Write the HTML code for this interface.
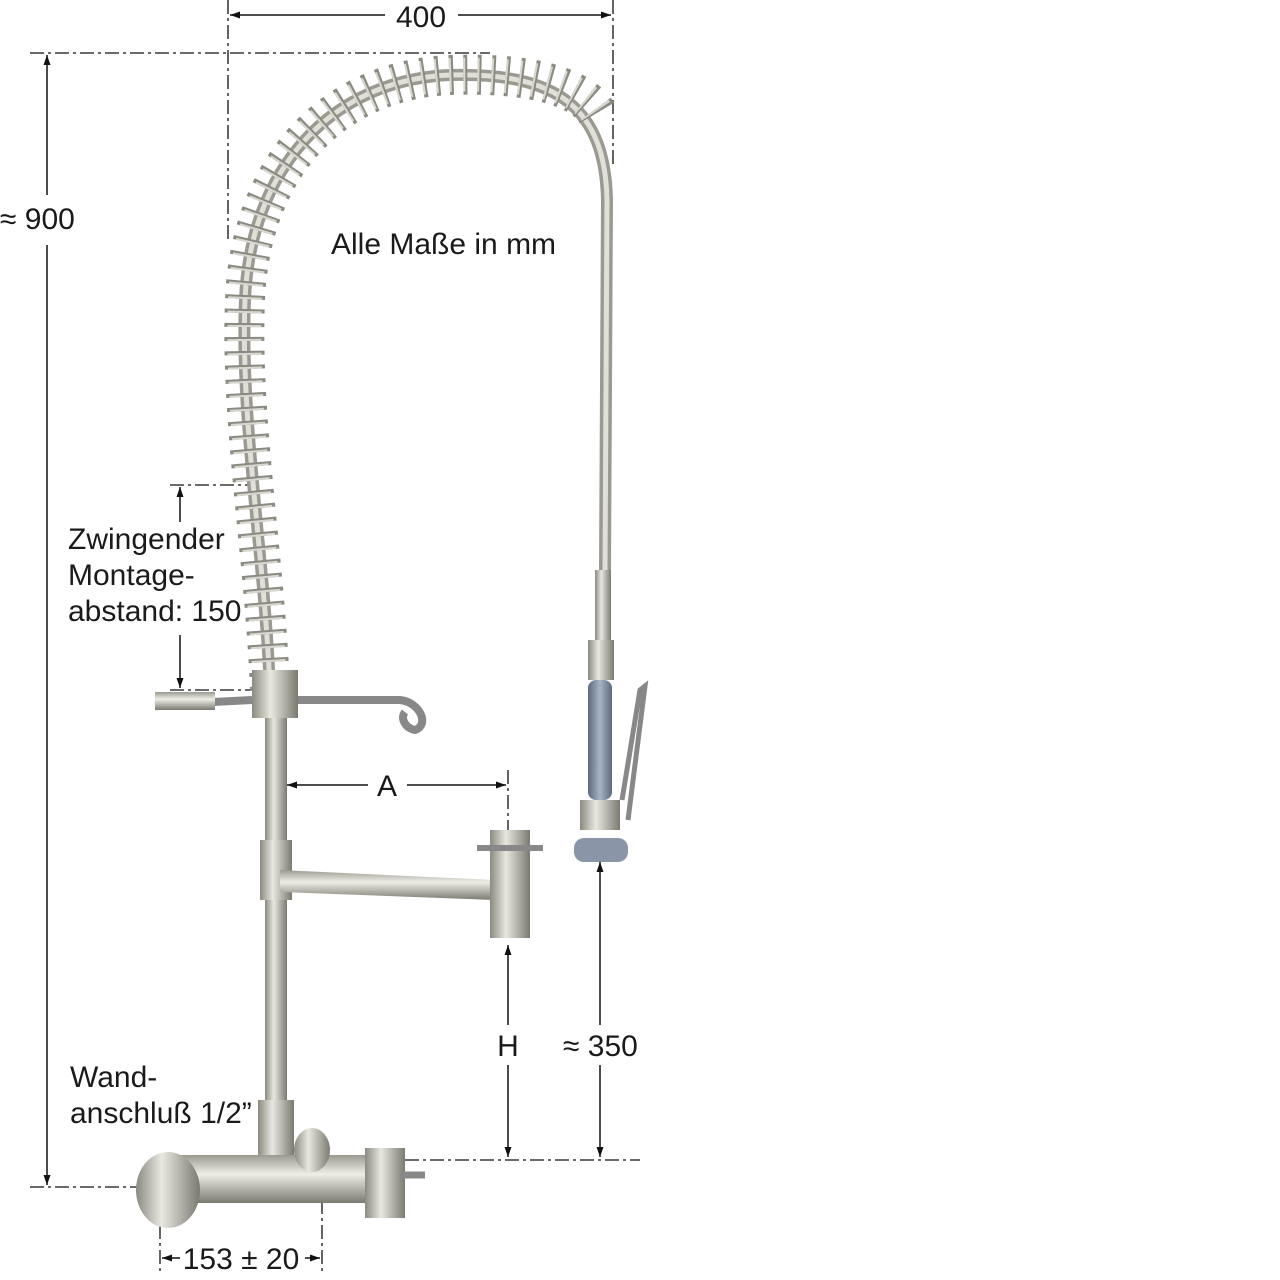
<!DOCTYPE html>
<html><head><meta charset="utf-8"><style>
html,body{margin:0;padding:0;background:#fff;}
svg{display:block;}
text{font-family:"Liberation Sans",sans-serif;fill:#1a1a1a;}
</style></head><body>
<svg width="1280" height="1280" viewBox="0 0 1280 1280" xmlns="http://www.w3.org/2000/svg">
<defs>
<marker id="ar" viewBox="0 0 10 10" refX="10" refY="5" markerWidth="10" markerHeight="10" orient="auto-start-reverse" markerUnits="userSpaceOnUse"><path d="M0,1.5 L10,5 L0,8.5 z" fill="#111"/></marker>
<linearGradient id="pole" x1="0" x2="1"><stop offset="0" stop-color="#8a8a80"/><stop offset="0.4" stop-color="#e8e8e0"/><stop offset="1" stop-color="#7a7a70"/></linearGradient>
<linearGradient id="polev" x1="0" y1="0" x2="0" y2="1"><stop offset="0" stop-color="#9a9a90"/><stop offset="0.4" stop-color="#eeeee6"/><stop offset="1" stop-color="#7a7a70"/></linearGradient>
<linearGradient id="grip" x1="0" x2="1"><stop offset="0" stop-color="#5a6a80"/><stop offset="0.5" stop-color="#a8b4c4"/><stop offset="1" stop-color="#5a6a80"/></linearGradient>
</defs>
<g stroke="#111" stroke-width="1.3" fill="none" stroke-dasharray="14,4,3,4">
<line x1="228" y1="0" x2="228" y2="240"/>
<line x1="613" y1="0" x2="613" y2="165"/>
<line x1="30" y1="53" x2="490" y2="53"/>
<line x1="30" y1="1187" x2="160" y2="1187"/>
<line x1="170" y1="485" x2="262" y2="485"/>
<line x1="170" y1="690" x2="255" y2="690"/>
<line x1="380" y1="1160" x2="640" y2="1160"/>
<line x1="160" y1="1200" x2="160" y2="1272"/>
<line x1="322" y1="1200" x2="322" y2="1272"/>
<line x1="508" y1="770" x2="508" y2="830"/>
</g>
<g stroke="#111" stroke-width="1.5" fill="none">
<line x1="230" y1="15" x2="385" y2="15" marker-start="url(#ar)"/>
<line x1="458" y1="15" x2="611" y2="15" marker-end="url(#ar)"/>
<line x1="47" y1="55" x2="47" y2="195" marker-start="url(#ar)"/>
<line x1="47" y1="245" x2="47" y2="1185" marker-end="url(#ar)"/>
<line x1="180" y1="487" x2="180" y2="522" marker-start="url(#ar)"/>
<line x1="180" y1="635" x2="180" y2="688" marker-end="url(#ar)"/>
<line x1="287" y1="785" x2="368" y2="785" marker-start="url(#ar)"/>
<line x1="407" y1="785" x2="506" y2="785" marker-end="url(#ar)"/>
<line x1="508" y1="945" x2="508" y2="1025" marker-start="url(#ar)"/>
<line x1="508" y1="1065" x2="508" y2="1157" marker-end="url(#ar)"/>
<line x1="600" y1="862" x2="600" y2="1025" marker-start="url(#ar)"/>
<line x1="600" y1="1065" x2="600" y2="1157" marker-end="url(#ar)"/>
<line x1="162" y1="1258" x2="180" y2="1258" marker-start="url(#ar)"/>
<line x1="305" y1="1258" x2="320" y2="1258" marker-end="url(#ar)"/>
</g>
<!-- hose -->
<path d="M270,690 C265,560 240,420 245,300 C250,170 330,80 450,75 C560,72 605,110 607,200 L605,570" stroke="#9a9a90" stroke-width="12" fill="none"/>
<path d="M270,690 C265,560 240,420 245,300 C250,170 330,80 450,75 C560,72 605,110 607,200 L605,570" stroke="#e0e0d8" stroke-width="5" fill="none"/>
<!-- coil -->
<path d="M270,690 C265,560 240,420 245,300 C250,170 330,80 450,75 C540,72 585,90 598,115" stroke="#8a8a80" stroke-width="40" fill="none" stroke-dasharray="4,10"/>
<path d="M270,690 C265,560 240,420 245,300 C250,170 330,80 450,75 C540,72 585,90 598,115" stroke="#d8d8d0" stroke-width="34" fill="none" stroke-dasharray="2,12"/>
<!-- nozzle -->
<rect x="595" y="570" width="16" height="70" fill="url(#pole)"/>
<rect x="588" y="640" width="26" height="40" fill="url(#pole)"/>
<rect x="588" y="680" width="24" height="120" rx="8" fill="url(#grip)"/>
<path d="M622,800 L640,690 L645,686 L628,820" stroke="#888" stroke-width="5" fill="none"/>
<rect x="580" y="800" width="40" height="30" fill="url(#pole)"/>
<rect x="574" y="838" width="54" height="24" rx="10" fill="#8a96a8"/>
<!-- pole -->
<rect x="265" y="690" width="22" height="470" fill="url(#pole)"/>
<rect x="252" y="670" width="46" height="48" fill="url(#pole)"/>
<rect x="260" y="840" width="32" height="60" fill="url(#pole)"/>
<rect x="258" y="1100" width="36" height="60" fill="url(#pole)"/>
<!-- hook bar -->
<path d="M155,705 L252,700 M298,700 L400,700 C420,702 430,725 415,730 C405,728 400,718 405,712" stroke="#888" stroke-width="8" fill="none"/>
<rect x="155" y="692" width="60" height="18" fill="url(#polev)"/>
<!-- spout -->
<path d="M280,870 L495,880 L495,900 L280,892 z" fill="url(#polev)"/>
<rect x="490" y="830" width="40" height="108" fill="url(#pole)"/>
<line x1="477" y1="848" x2="543" y2="848" stroke="#888" stroke-width="6"/>
<!-- base -->
<rect x="160" y="1155" width="245" height="48" rx="10" fill="url(#polev)"/>
<ellipse cx="168" cy="1190" rx="32" ry="38" fill="url(#pole)"/>
<ellipse cx="312" cy="1150" rx="18" ry="22" fill="url(#pole)"/>
<rect x="365" y="1148" width="40" height="70" fill="url(#pole)"/>
<line x1="400" y1="1175" x2="425" y2="1175" stroke="#888" stroke-width="7"/>
<!-- text -->
<text x="421" y="27" font-size="30" text-anchor="middle">400</text>
<text x="0" y="229" font-size="30">≈ 900</text>
<text x="331" y="254" font-size="30">Alle Maße in mm</text>
<text x="68" y="549" font-size="30">Zwingender</text>
<text x="68" y="585" font-size="30">Montage-</text>
<text x="68" y="621" font-size="30">abstand: 150</text>
<text x="387" y="796" font-size="30" text-anchor="middle">A</text>
<text x="508" y="1056" font-size="30" text-anchor="middle">H</text>
<text x="563" y="1056" font-size="30">≈ 350</text>
<text x="70" y="1087" font-size="30">Wand-</text>
<text x="70" y="1123" font-size="30">anschluß 1/2”</text>
<text x="241" y="1269" font-size="30" text-anchor="middle">153 ± 20</text>
</svg>
</body></html>
